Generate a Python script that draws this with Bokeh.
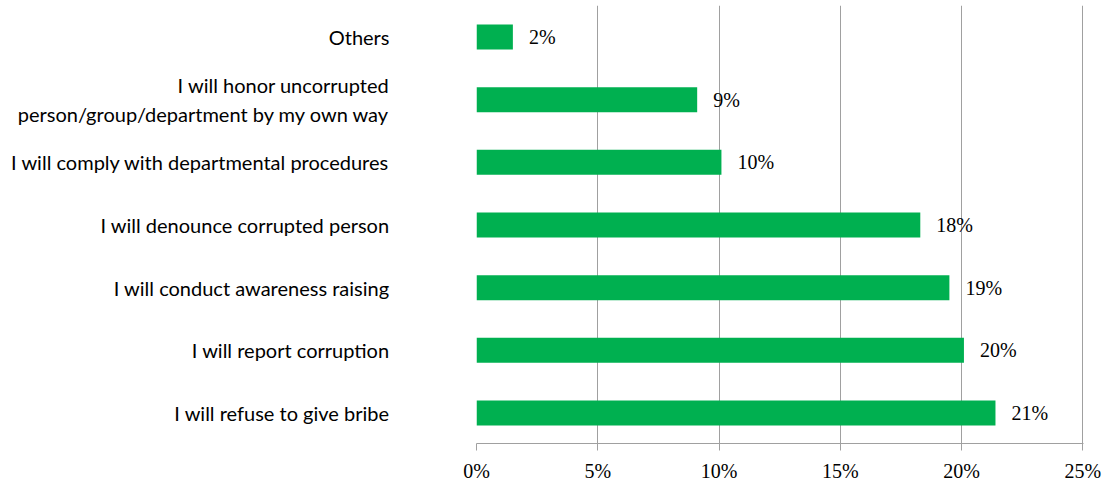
from bokeh.plotting import figure
from bokeh.models import Range1d, FixedTicker, PrintfTickFormatter, ColumnDataSource
from bokeh.embed import file_html
from bokeh.resources import INLINE
from bokeh.core.properties import value

# Data (top to bottom as shown)
categories = [
    "Others",
    "I will honor uncorrupted\nperson/group/department by my own way",
    "I will comply with departmental procedures",
    "I will denounce corrupted person",
    "I will conduct awareness raising",
    "I will report corruption",
    "I will refuse to give bribe",
]
percent_values = [1.5, 9.1, 10.1, 18.3, 19.5, 20.1, 21.4]
value_labels = ["2%", "9%", "10%", "18%", "19%", "20%", "21%"]
x_ticks = [0, 5, 10, 15, 20, 25]

n = len(categories)
ypos = [n - 1 - i for i in range(n)]

src = ColumnDataSource(dict(y=ypos, v=percent_values, lab=value_labels))

p = figure(width=1112, height=484, output_backend="svg", toolbar_location=None,
           x_range=Range1d(0, 25.03), y_range=Range1d(-0.487, 6.503),
           min_border_left=476, min_border_right=29, min_border_top=5, min_border_bottom=0)
p.outline_line_color = None
p.background_fill_color = "white"
p.border_fill_color = "white"

green = "#00B050"
p.hbar(y="y", right="v", left=0, height=0.4, source=src, color=green, line_color=None)

p.text(x="v", y="y", text="lab", source=src, x_offset=16, text_baseline="middle",
       text_align="left", text_font=value("Liberation Serif"), text_font_size="20px",
       text_color="black")

# x axis
xa = p.xaxis[0]
xa.ticker = FixedTicker(ticks=x_ticks)
xa.formatter = PrintfTickFormatter(format="%d%%")
xa.axis_line_color = "#a0a0a0"
xa.major_tick_line_color = "#a0a0a0"
xa.major_tick_in = 0
xa.major_tick_out = 7
xa.minor_tick_line_color = None
xa.major_label_text_font = "Liberation Serif"
xa.major_label_text_font_size = "20px"
xa.major_label_text_color = "black"
xa.major_label_standoff = 9

# y axis with category labels
ya = p.yaxis[0]
ya.ticker = FixedTicker(ticks=ypos)
ya.major_label_overrides = {yy: c for yy, c in zip(ypos, categories)}
ya.axis_line_color = None
ya.major_tick_line_color = None
ya.minor_tick_line_color = None
ya.major_label_text_font = "Lato"
ya.major_label_text_font_size = "20px"
ya.major_label_text_color = "black"
ya.major_label_standoff = 81

p.xgrid.ticker = FixedTicker(ticks=x_ticks)
p.xgrid.grid_line_color = "#a0a0a0"
p.xgrid.grid_line_width = 1
p.ygrid.grid_line_color = None

open("out.html", "w").write(file_html(p, INLINE))
